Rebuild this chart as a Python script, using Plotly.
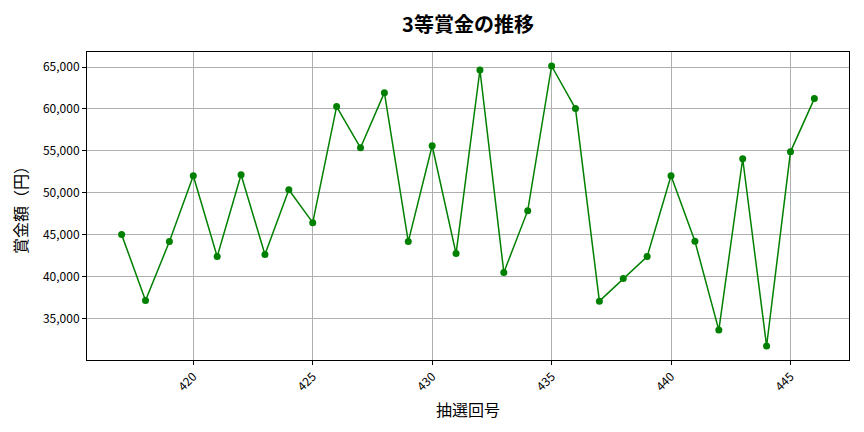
import plotly.graph_objects as go

# 抽選回号と3等賞金 (円)
draws = list(range(417, 447))
prize = [45000, 37150, 44170, 52020, 42380, 52140, 42620, 50360, 46430, 60280,
         55360, 61940, 44170, 55600, 42740, 64640, 40480, 47860, 65120, 60040,
         37060, 39760, 42380, 52020, 44210, 33610, 54050, 31710, 54880, 61230]

x_ticks = [420, 425, 430, 435, 440, 445]
y_ticks = [35000, 40000, 45000, 50000, 55000, 60000, 65000]

font = "Noto Sans CJK JP"

fig = go.Figure()
fig.add_trace(go.Scatter(
    x=draws, y=prize, mode="lines+markers",
    line=dict(color="#008000", width=1.5),
    marker=dict(color="#008000", size=7),
    showlegend=False,
))

# the page body adds an 8px offset, so margins are shifted by that
span = max(prize) - min(prize)
fig.update_layout(
    width=864, height=432,
    margin=dict(l=79, r=23, t=44, b=80),
    paper_bgcolor="white", plot_bgcolor="white",
    font=dict(family=font, size=12, color="black"),
    title=dict(text="<b>3等賞金の推移</b>", xref="paper", x=0.5, xanchor="center",
               y=1 - 17 / 432, yanchor="middle", font=dict(size=20, family=font)),
)
fig.update_xaxes(
    range=[draws[0] - 1.45, draws[-1] + 1.45],
    tickvals=x_ticks, tickangle=-45,
    showgrid=True, gridcolor="#b0b0b0", gridwidth=1,
    showline=True, linecolor="black", linewidth=1, mirror=True,
    ticks="outside", ticklen=4, tickcolor="black",
    title=dict(text="抽選回号", font=dict(size=16), standoff=11),
    zeroline=False, automargin=False,
)
fig.update_yaxes(
    range=[min(prize) - 0.05 * span, max(prize) + 0.05 * span],
    tickvals=y_ticks, tickformat=",d",
    showgrid=True, gridcolor="#b0b0b0", gridwidth=1,
    showline=True, linecolor="black", linewidth=1, mirror=True,
    ticks="outside", ticklen=4, tickcolor="black",
    title=dict(text="賞金額（円）", font=dict(size=16), standoff=11),
    zeroline=False, automargin=False,
)

fig.write_html("out.html")
